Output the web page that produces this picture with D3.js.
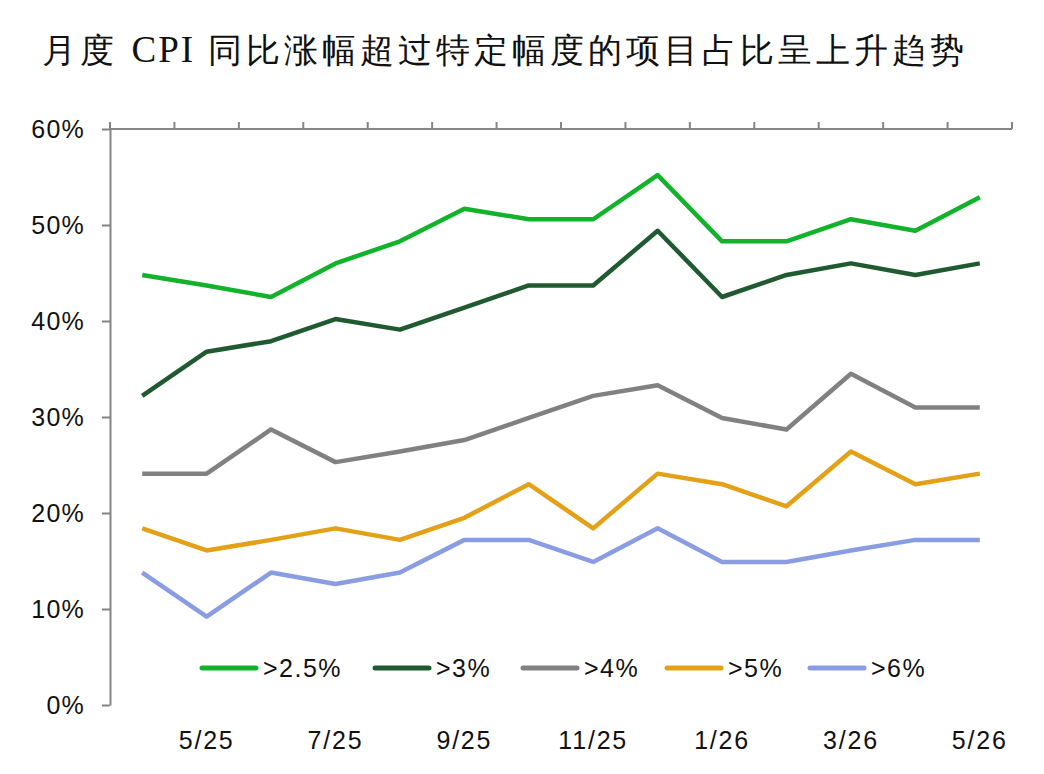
<!DOCTYPE html>
<html>
<head>
<meta charset="utf-8">
<script src="https://cdn.jsdelivr.net/npm/d3@7"></script>
<style>
  body { margin: 0; background: #fff; }
  text { font-family: "Liberation Sans", Arial, sans-serif; }
</style>
</head>
<body>
<div id="chart"></div>
<script>
const months = ["4/25","5/25","6/25","7/25","8/25","9/25","10/25","11/25","12/25","1/26","2/26","3/26","4/26","5/26"]
const above25 = [44.8, 43.7, 42.5, 46.0, 48.3, 51.7, 50.6, 50.6, 55.2, 48.3, 48.3, 50.6, 49.4, 52.9]
const above3  = [32.2, 36.8, 37.9, 40.2, 39.1, 41.4, 43.7, 43.7, 49.4, 42.5, 44.8, 46.0, 44.8, 46.0]
const above4  = [24.1, 24.1, 28.7, 25.3, 26.4, 27.6, 29.9, 32.2, 33.3, 29.9, 28.7, 34.5, 31.0, 31.0]
const above5  = [18.4, 16.1, 17.2, 18.4, 17.2, 19.5, 23.0, 18.4, 24.1, 23.0, 20.7, 26.4, 23.0, 24.1]
const above6  = [13.8,  9.2, 13.8, 12.6, 13.8, 17.2, 17.2, 14.9, 18.4, 14.9, 14.9, 16.1, 17.2, 17.2]
const seriesNames = [">2.5%", ">3%", ">4%", ">5%", ">6%"]
const yTicks = [0, 10, 20, 30, 40, 50, 60]

const series = [
  { name: seriesNames[0], values: above25, color: "#12b32a" },
  { name: seriesNames[1], values: above3,  color: "#1f5a30" },
  { name: seriesNames[2], values: above4,  color: "#818181" },
  { name: seriesNames[3], values: above5,  color: "#e2a116" },
  { name: seriesNames[4], values: above6,  color: "#8b9de2" },
]

const width = 1044
const height = 774
const margin = { top: 129, right: 32, bottom: 69, left: 110 }
const boundedWidth = width - margin.left - margin.right
const boundedHeight = height - margin.top - margin.bottom

const svg = d3.select("#chart").append("svg")
    .attr("width", width)
    .attr("height", height)

// title
const title = svg.append("text")
    .attr("x", 42)
    .attr("y", 62)
    .attr("font-family", "'Noto Sans CJK SC', sans-serif")
    .attr("font-weight", 300)
    .attr("font-size", 34)
    .attr("letter-spacing", 4)
    .attr("fill", "#111")
title.append("tspan").text("月度 ")
title.append("tspan")
    .attr("font-family", "'Liberation Serif', serif")
    .attr("font-size", 37)
    .attr("letter-spacing", 2)
    .text("CPI")
title.append("tspan").text(" 同比涨幅超过特定幅度的项目占比呈上升趋势")

const bounds = svg.append("g")
    .attr("transform", `translate(${margin.left},${margin.top})`)

const xScale = d3.scaleBand()
    .domain(months)
    .range([0, boundedWidth])
    .padding(0)

const yScale = d3.scaleLinear()
    .domain([0, 60])
    .range([boundedHeight, 0])

const xCenter = i => xScale(months[i]) + xScale.bandwidth() / 2

// y axis
const yAxis = bounds.append("g")
    .call(d3.axisLeft(yScale)
      .tickValues(yTicks)
      .tickSize(8)
      .tickSizeOuter(0)
      .tickPadding(17)
      .tickFormat(d => d + "%"))
yAxis.selectAll("path, line").attr("stroke", "#858585").attr("stroke-width", 2)
yAxis.selectAll("text")
    .attr("font-size", 25)
    .attr("letter-spacing", 1.2)
    .attr("fill", "#111")
    .attr("font-family", "'Liberation Sans', Arial, sans-serif")

// top category axis (ticks at band boundaries)
const boundaries = months.map(m => xScale(m)).concat([xScale.range()[1]])
bounds.append("line")
    .attr("x1", 0)
    .attr("x2", boundedWidth)
    .attr("y1", 0)
    .attr("y2", 0)
    .attr("stroke", "#858585")
    .attr("stroke-width", 2)
bounds.selectAll(".xtick")
  .data(boundaries)
  .join("line")
    .attr("class", "xtick")
    .attr("x1", d => d)
    .attr("x2", d => d)
    .attr("y1", 0)
    .attr("y2", -7)
    .attr("stroke", "#858585")
    .attr("stroke-width", 2)

// bottom month labels, every other month
bounds.selectAll(".xlabel")
  .data(months.map((m, i) => ({ m, i })).filter(d => d.i % 2 === 1))
  .join("text")
    .attr("class", "xlabel")
    .attr("x", d => xCenter(d.i))
    .attr("y", boundedHeight + 44)
    .attr("text-anchor", "middle")
    .attr("font-size", 25)
    .attr("letter-spacing", 1.8)
    .attr("fill", "#111")
    .text(d => d.m)

// lines
const lineGenerator = d3.line()
    .x((d, i) => xCenter(i))
    .y(d => yScale(d))

bounds.selectAll(".series")
  .data(series)
  .join("path")
    .attr("class", "series")
    .attr("d", d => lineGenerator(d.values))
    .attr("fill", "none")
    .attr("stroke", d => d.color)
    .attr("stroke-width", 4.5)
    .attr("stroke-linejoin", "round")

// legend
const legendX = [200, 373, 521, 665, 808]
const legend = svg.selectAll(".legend")
  .data(series)
  .join("g")
    .attr("class", "legend")
    .attr("transform", (d, i) => `translate(${legendX[i]},668)`)
legend.append("line")
    .attr("x1", 2)
    .attr("x2", 56)
    .attr("stroke", d => d.color)
    .attr("stroke-width", 5)
    .attr("stroke-linecap", "round")
legend.append("text")
    .attr("x", 63)
    .attr("y", 9)
    .attr("font-size", 25)
    .attr("letter-spacing", 1.5)
    .attr("fill", "#111")
    .text(d => d.name)
</script>
</body>
</html>
